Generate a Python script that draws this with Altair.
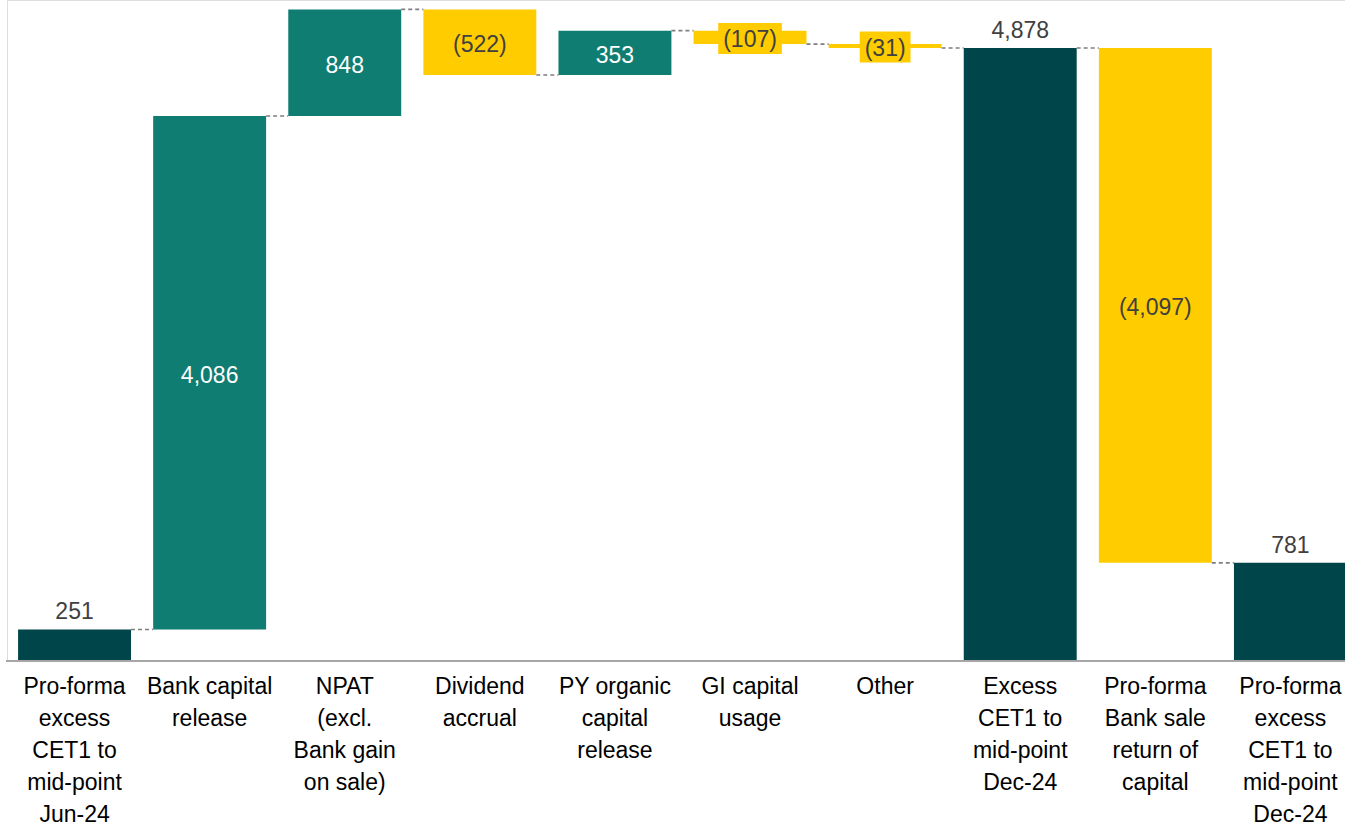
import altair as alt
import pandas as pd

categories = [
    "Pro-forma\nexcess\nCET1 to\nmid-point\nJun-24",
    "Bank capital\nrelease",
    "NPAT\n(excl.\nBank gain\non sale)",
    "Dividend\naccrual",
    "PY organic\ncapital\nrelease",
    "GI capital\nusage",
    "Other",
    "Excess\nCET1 to\nmid-point\nDec-24",
    "Pro-forma\nBank sale\nreturn of\ncapital",
    "Pro-forma\nexcess\nCET1 to\nmid-point\nDec-24",
]
values = [251, 4086, 848, -522, 353, -107, -31, 4878, -4097, 781]
kinds = ["total", "inc", "inc", "dec", "inc", "dec", "dec", "total", "dec", "total"]

FONT = "Liberation Sans"
FS = 23
HALF = 0.418

def fmt(v):
    s = f"{abs(v):,}"
    return f"({s})" if v < 0 else s

CW = {"(": 0.333, ")": 0.333, ",": 0.278}
def text_w(s):
    return sum(CW.get(c, 0.556) for c in s) * FS

rows = []
running = 0
for i, (c, v, k) in enumerate(zip(categories, values, kinds)):
    if k == "total":
        start, end = 0, v
    else:
        start, end = running, running + v
    running = end
    lab = fmt(v)
    w = text_w(lab) + 10
    rows.append(dict(i=i, cat=c, value=v, kind=k, start=start, end=end,
                     mid=(start + end) / 2, label=lab,
                     path=f"M{-w/2:.1f},-14.5H{w/2:.1f}V16.5H{-w/2:.1f}Z"))
df = pd.DataFrame(rows)

conn = pd.DataFrame([dict(i=r["i"], level=r["end"]) for r in rows[:-1]])

X_DOMAIN = [-0.5, 9.404]
xs = alt.Scale(domain=X_DOMAIN, nice=False, zero=False)
ys = alt.Scale(domain=[0, 5260], nice=False)

base = alt.Chart(df)

bars = base.transform_calculate(
    x1=f"datum.i - {HALF}", x2=f"datum.i + {HALF}"
).mark_rect(clip=True).encode(
    x=alt.X("x1:Q", scale=xs, axis=None),
    x2="x2:Q",
    y=alt.Y("start:Q", scale=ys, axis=None),
    y2="end:Q",
    color=alt.Color("kind:N", scale=alt.Scale(domain=["total", "inc", "dec"],
                                               range=["#00454A", "#107D73", "#FFCC00"]),
                    legend=None),
)

connectors = alt.Chart(conn).transform_calculate(
    xa=f"datum.i + {HALF}", xb=f"datum.i + 1 - {HALF}"
).mark_rule(color="#7F7F7F", strokeWidth=1.6, strokeDash=[4, 3]).encode(
    x=alt.X("xa:Q", scale=xs), x2="xb:Q", y=alt.Y("level:Q", scale=ys)
)

axis_line = alt.Chart(pd.DataFrame({"y": [0]})).mark_rule(
    color="#A6A6A6", strokeWidth=2
).encode(x=alt.value(-1), x2=alt.value(1345), y=alt.Y("y:Q", scale=ys))

dec = df[df.kind == "dec"]
label_bg = alt.Chart(dec).mark_point(filled=True, opacity=1, strokeWidth=0, color="#FFCC00").encode(
    x=alt.X("i:Q", scale=xs),
    y=alt.Y("mid:Q", scale=ys),
    shape=alt.Shape("label:N", scale=alt.Scale(domain=list(dec.label), range=list(dec.path)), legend=None),
    size=alt.value(4),
)

dec_text = alt.Chart(dec).mark_text(font=FONT, fontSize=FS, color="#404040", baseline="middle", dy=3).encode(
    x=alt.X("i:Q", scale=xs), y=alt.Y("mid:Q", scale=ys), text="label:N"
)
inc_text = alt.Chart(df[df.kind == "inc"]).mark_text(font=FONT, fontSize=FS, color="#FFFFFF", baseline="middle", dy=3).encode(
    x=alt.X("i:Q", scale=xs), y=alt.Y("mid:Q", scale=ys), text="label:N"
)
tot_text = alt.Chart(df[df.kind == "total"]).mark_text(font=FONT, fontSize=FS, color="#404040", baseline="middle", dy=-17).encode(
    x=alt.X("i:Q", scale=xs), y=alt.Y("end:Q", scale=ys), text="label:N"
)

cat_text = base.transform_calculate(zero="0").mark_text(
    font=FONT, fontSize=FS, color="#000000", baseline="top", dy=15, lineHeight=32, lineBreak="\n"
).encode(
    x=alt.X("i:Q", scale=xs), y=alt.Y("zero:Q", scale=ys), text="cat:N"
)

chart = alt.layer(bars, connectors, axis_line, label_bg, dec_text, inc_text, tot_text, cat_text).properties(
    width=1338, height=661,
    padding={"left": 7, "top": 0, "right": 0, "bottom": 165},
    autosize=alt.AutoSizeParams(type="none"),
).configure_view(stroke=None).configure(background="white")

chart.save("out.html", embed_options={"renderer": "svg", "actions": False})
